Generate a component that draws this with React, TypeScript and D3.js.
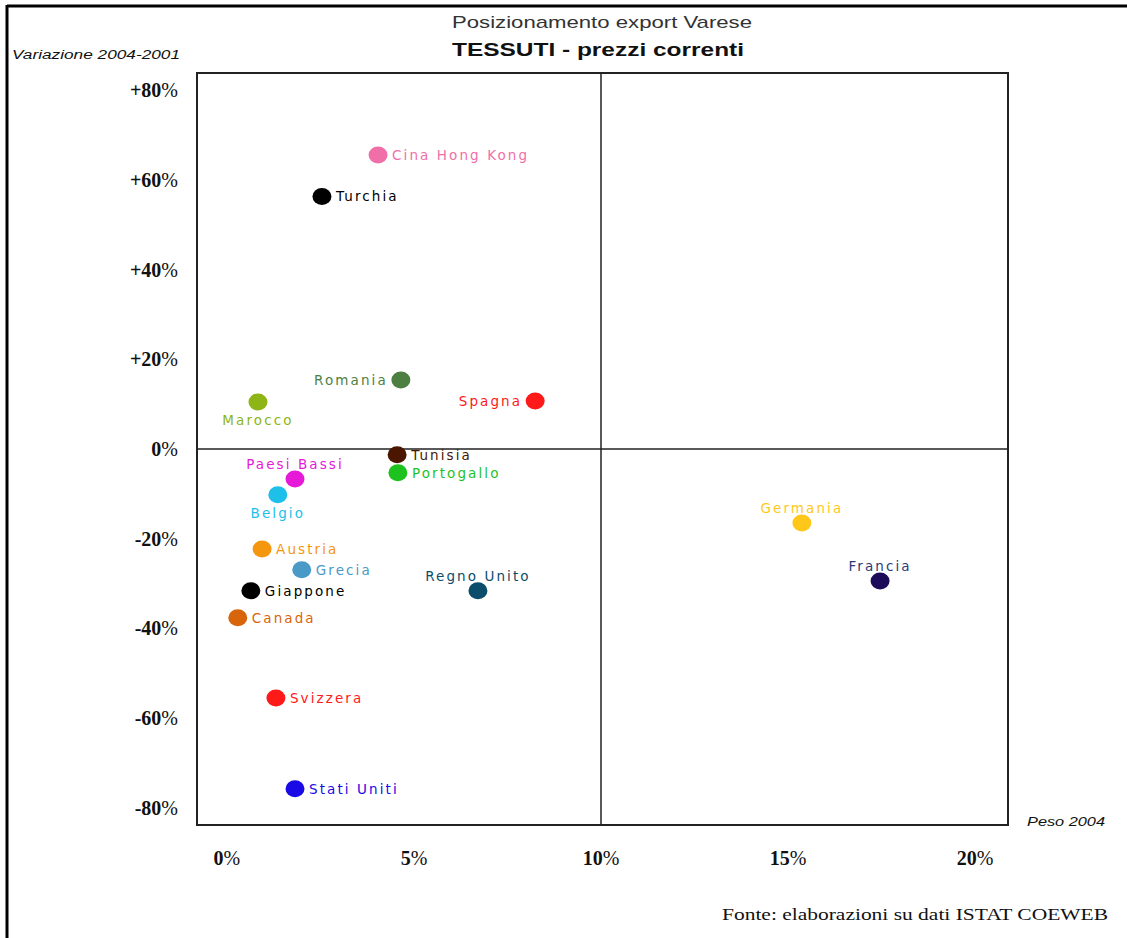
import * as d3 from "d3";

const WIDTH = 1127;
const HEIGHT = 938;
const MARGIN = { top: 73, right: 119, bottom: 113, left: 197 };

// paesi, peso 2004 (%) e variazione 2004-2001 (%)
const countries = [
  "Cina Hong Kong", "Turchia", "Romania", "Spagna", "Marocco", "Tunisia",
  "Portogallo", "Paesi Bassi", "Belgio", "Austria", "Grecia", "Giappone",
  "Canada", "Regno Unito", "Germania", "Francia", "Svizzera", "Stati Uniti",
];
const peso = [
  4.04, 2.54, 4.65, 8.24, 0.83, 4.55,
  4.57, 1.82, 1.36, 0.94, 2.0, 0.64,
  0.29, 6.71, 15.37, 17.46, 1.31, 1.82,
];
const variazione = [
  65.5, 56.3, 15.4, 10.7, 10.5, -1.3,
  -5.3, -6.7, -10.2, -22.3, -26.9, -31.6,
  -37.6, -31.6, -16.5, -29.4, -55.5, -75.7,
];
const colors = [
  "#f06fa8", "#000000", "#4e7f42", "#ff1a1a", "#8db516", "#4a1600",
  "#1ec21e", "#e619d8", "#1ec0ea", "#f5960f", "#4a9ac8", "#000000",
  "#d9650a", "#0b4d6b", "#ffc71a", "#1b0b58", "#ff1a1a", "#1a0ae6",
];
const labelColors = [
  "#f06fa8", "#000000", "#4e7f42", "#ff1a1a", "#8db516", "#4a1600",
  "#1ec21e", "#e619d8", "#1ec0ea", "#f5960f", "#4a9ac8", "#000000",
  "#d9650a", "#0b4d6b", "#ffc71a", "#2b3a7a", "#ff1a1a", "#1a0ae6",
];
// posizione etichetta: r = destra, l = sinistra, t = sopra, b = sotto
const labelPos = [
  "r", "r", "l", "l", "b", "r",
  "r", "t", "b", "r", "r", "r",
  "r", "t", "t", "t", "r", "r",
];

const xTicks = [0, 5, 10, 15, 20];
const yTicks = [80, 60, 40, 20, 0, -20, -40, -60, -80];

export default function App() {
  const boundsWidth = WIDTH - MARGIN.left - MARGIN.right;
  const boundsHeight = HEIGHT - MARGIN.top - MARGIN.bottom;

  const xScale = d3.scaleLinear().domain([-0.8, 20.88]).range([0, boundsWidth]);
  const yScale = d3.scaleLinear().domain([-83.8, 83.8]).range([boundsHeight, 0]);

  const labelFont = { fontFamily: "'DejaVu Sans', Verdana, sans-serif", fontSize: 13.5, letterSpacing: 2.1 };
  const tickFont = "'Liberation Serif', 'Times New Roman', serif";

  return (
    <svg width={WIDTH} height={HEIGHT} style={{ position: "absolute", left: 0, top: 0, background: "#fff" }}>
      {/* cornice pagina */}
      <line x1={7} x2={WIDTH} y1={6} y2={6} stroke="#000" strokeWidth={3} />
      <line x1={7} x2={7} y1={5} y2={HEIGHT} stroke="#000" strokeWidth={3} />

      {/* titoli */}
      <text x={602} y={28} textAnchor="middle" fontFamily="'Liberation Sans', Arial, sans-serif" fontSize={17} fill="#333" textLength={300} lengthAdjust="spacingAndGlyphs">
        Posizionamento export Varese
      </text>
      <text x={598} y={56} textAnchor="middle" fontFamily="'Liberation Sans Narrow', 'Liberation Sans', Arial, sans-serif" fontWeight="bold" fontSize={19} fill="#111" textLength={292} lengthAdjust="spacingAndGlyphs">
        TESSUTI - prezzi correnti
      </text>
      <text x={12} y={59} fontFamily="'Liberation Sans', Arial, sans-serif" fontStyle="italic" fontSize={12} fill="#111" textLength={168} lengthAdjust="spacingAndGlyphs">
        Variazione 2004-2001
      </text>
      <text x={1027} y={826} fontFamily="'Liberation Sans', Arial, sans-serif" fontStyle="italic" fontSize={12} fill="#111" textLength={78} lengthAdjust="spacingAndGlyphs">
        Peso 2004
      </text>
      <text x={1108} y={920} textAnchor="end" fontFamily="'Liberation Serif', 'Times New Roman', serif" fontSize={16} fill="#111" textLength={386} lengthAdjust="spacingAndGlyphs">
        Fonte: elaborazioni su dati ISTAT COEWEB
      </text>

      <g transform={`translate(${MARGIN.left},${MARGIN.top})`}>
        {/* riquadro e quadranti */}
        <rect x={0} y={0} width={boundsWidth} height={boundsHeight} fill="none" stroke="#222" strokeWidth={2} />
        <line x1={xScale(10)} x2={xScale(10)} y1={0} y2={boundsHeight} stroke="#222" strokeWidth={1.5} />
        <line x1={0} x2={boundsWidth} y1={yScale(0)} y2={yScale(0)} stroke="#222" strokeWidth={1.5} />

        {/* asse y */}
        {yTicks.map((t) => (
          <text key={t} x={-19} y={yScale(t)} dy="0.35em" textAnchor="end" fontFamily={tickFont} fontSize={20} fill="#111">
            <tspan fontWeight="bold">{t > 0 ? `+${t}` : `${t}`}</tspan>
            <tspan>%</tspan>
          </text>
        ))}

        {/* asse x */}
        {xTicks.map((t) => (
          <text key={t} x={xScale(t)} y={boundsHeight + 40} textAnchor="middle" fontFamily={tickFont} fontSize={20} fill="#111">
            <tspan fontWeight="bold">{t}</tspan>
            <tspan>%</tspan>
          </text>
        ))}

        {/* punti */}
        {countries.map((c, i) => {
          const cx = xScale(peso[i]);
          const cy = yScale(variazione[i]);
          const pos = labelPos[i];
          let lx = cx;
          let ly = cy;
          let anchor = "middle";
          if (pos === "r") {
            lx = cx + 14;
            anchor = "start";
          } else if (pos === "l") {
            lx = cx - 13;
            anchor = "end";
          } else if (pos === "t") {
            ly = cy - 15;
          } else {
            ly = cy + 18;
          }
          return (
            <g key={c}>
              <ellipse cx={cx} cy={cy} rx={9.5} ry={8.5} fill={colors[i]} />
              <text x={lx} y={ly} dy="0.36em" textAnchor={anchor} fill={labelColors[i]} {...labelFont}>
                {c}
              </text>
            </g>
          );
        })}
      </g>
    </svg>
  );
}
